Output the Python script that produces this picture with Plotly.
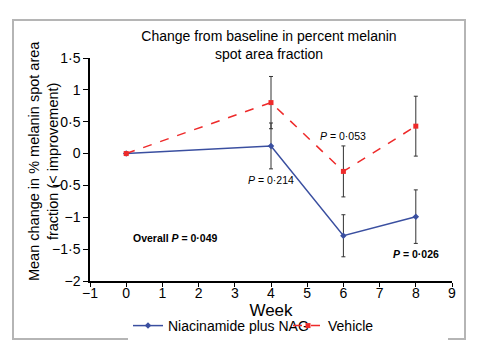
import plotly.graph_objects as go

weeks = [0, 4, 6, 8]
nia_mean = [0, 0.12, -1.29, -0.99]
nia_err = [0, 0.36, 0.33, 0.42]
veh_mean = [0, 0.80, -0.28, 0.43]
veh_err = [0, 0.41, 0.40, 0.47]

x_ticks = [-1, 0, 1, 2, 3, 4, 5, 6, 7, 8, 9]
y_ticks = [-2, -1.5, -1, -0.5, 0, 0.5, 1, 1.5]
y_labels = ["−2", "−1·5", "−1", "−0·5", "0", "0·5", "1", "1·5"]
x_labels = ["−1" if t < 0 else str(t) for t in x_ticks]

annots = [
    (4.0, -0.41, "<i>P</i> = 0·214", False),
    (6.0, 0.28, "<i>P</i> = 0·053", False),
    (1.35, -1.33, "Overall <i>P</i> = 0·049", True),
    (8.0, -1.58, "<i>P</i> = 0·026", True),
]

FONT = "Liberation Sans, Arial, sans-serif"
fig = go.Figure()
fig.add_trace(go.Scatter(
    x=weeks, y=nia_mean, name="Niacinamide plus NAG", mode="lines+markers",
    line=dict(color="#3a4fa0", width=1.5),
    marker=dict(symbol="diamond", size=5, color="#3a4fa0"),
    error_y=dict(type="data", array=nia_err, color="#333333", thickness=1, width=2),
))
fig.add_trace(go.Scatter(
    x=weeks, y=veh_mean, name="Vehicle", mode="lines+markers",
    line=dict(color="#ee2a2a", width=1.5, dash="dash"),
    marker=dict(symbol="square", size=5, color="#ee2a2a"),
    error_y=dict(type="data", array=veh_err, color="#333333", thickness=1, width=2),
))

for x, y, t, b in annots:
    fig.add_annotation(x=x, y=y, text=("<b>%s</b>" % t) if b else t, showarrow=False,
                       font=dict(size=10.5, color="black", family=FONT))

# y-axis title as rotated annotation
fig.add_annotation(xref="paper", yref="paper", x=-0.1298, y=0.538, xanchor="center", yanchor="middle",
                   text="Mean change in % melanin spot area<br>fraction (< improvement)",
                   textangle=-90, showarrow=False, font=dict(size=14.5, color="black", family=FONT))

fig.add_shape(type="rect", xref="paper", yref="paper", x0=-0.2127, x1=1.0359, y0=-0.2600, y1=1.170,
              line=dict(color="#b5b5b5", width=2), layer="below")

fig.update_layout(
    width=480, height=357,
    margin=dict(l=90, r=28, t=58, b=76, autoexpand=False),
    paper_bgcolor="white", plot_bgcolor="white",
    font=dict(family=FONT, size=14, color="black"),
    title=dict(text="Change from baseline in percent melanin<br>spot area fraction",
               x=269 / 480, xanchor="center", y=1 - 41 / 357, yanchor="middle",
               font=dict(size=14)),
    showlegend=True,
    legend=dict(orientation="h", x=(128 - 90) / 362, xanchor="left", y=-0.13, yanchor="top",
                itemwidth=30, entrywidth=115, font=dict(size=14), tracegroupgap=0),
    xaxis=dict(range=[-1, 9], tickvals=x_ticks, ticktext=x_labels, showgrid=False, zeroline=False,
               showline=True, linecolor="black", linewidth=1.5, ticks="outside", ticklen=4,
               ticklabelstandoff=-6,
               tickcolor="black", title=dict(text="Week", standoff=0), tickfont=dict(size=14)),
    yaxis=dict(range=[-2, 1.5], tickvals=y_ticks, ticktext=y_labels, showgrid=False, zeroline=False,
               showline=True, linecolor="black", linewidth=1.5, ticks="outside", ticklen=5,
               tickcolor="black", tickfont=dict(size=14)),
)

fig.write_html("out.html", config={"displayModeBar": False},
               post_script="document.body.style.margin='0';document.body.style.padding='0';")
